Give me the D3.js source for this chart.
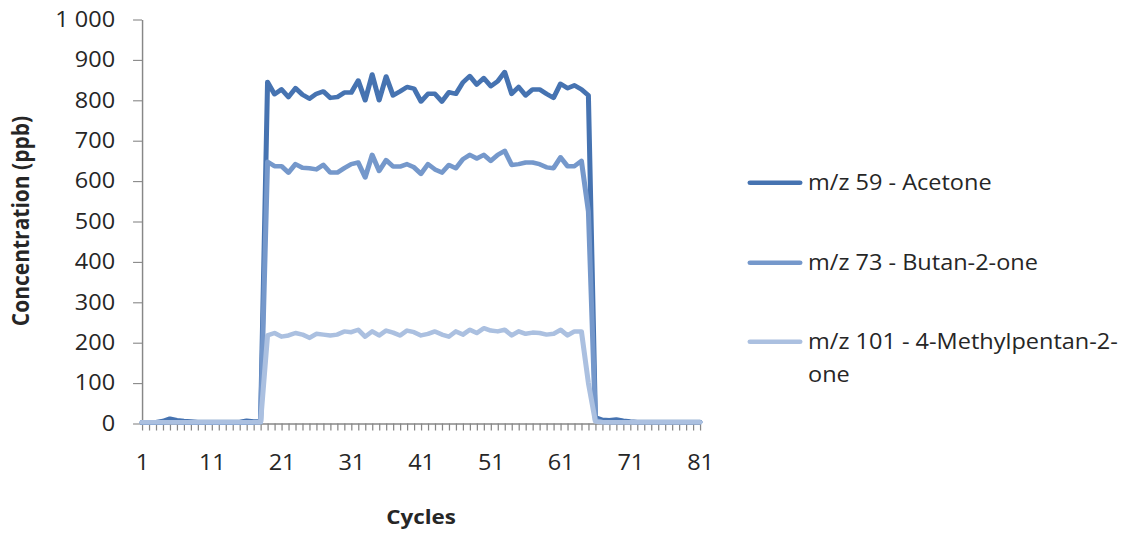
<!DOCTYPE html>
<html>
<head>
<meta charset="utf-8">
<script src="https://cdn.jsdelivr.net/npm/d3@7"></script>
<style>
  html, body { margin: 0; padding: 0; background: #fff; overflow: hidden; }
  svg text { font-family: "Open Sans", "Liberation Sans", sans-serif; fill: #262626; }
</style>
</head>
<body>
<svg id="chart"></svg>
<script>
// Measurement cycles 1..81
const cycles = d3.range(1, 82);

// Concentrations (ppb) per cycle
const acetone = [
  3, 3, 3, 6, 12, 8, 6, 5, 4, 4, 4, 4, 4, 4, 4, 7, 5, 5,
  845, 815, 827, 808, 830, 814, 804, 816, 822, 806, 808, 819, 819, 849, 800, 864,
  800, 859, 812, 822, 833, 829, 797, 816, 816, 797, 820, 816, 844, 860, 839, 855,
  835, 847, 870, 816, 833, 812, 827, 827, 816, 806, 841, 830, 837, 827, 812,
  15, 9, 8, 10, 7, 5, 4, 4, 4, 4, 4, 4, 4, 4, 4, 4
];
const butanone = [
  2, 2, 2, 2, 3, 3, 2, 2, 2, 2, 2, 2, 2, 2, 2, 2, 2, 3,
  648, 637, 637, 621, 642, 633, 632, 629, 640, 621, 621, 632, 642, 646, 609, 665,
  625, 652, 636, 636, 642, 634, 618, 642, 629, 621, 640, 632, 654, 665, 656, 665,
  650, 665, 675, 640, 642, 646, 646, 642, 634, 632, 659, 637, 637, 650, 525,
  8, 4, 3, 3, 3, 3, 3, 3, 3, 3, 3, 3, 3, 3, 3, 3
];
const methylpentanone = [
  3, 3, 3, 3, 3, 3, 3, 3, 3, 3, 3, 3, 3, 3, 3, 3, 3, 3,
  218, 224, 215, 218, 224, 220, 212, 222, 220, 218, 220, 228, 226, 232, 215, 228,
  218, 230, 225, 218, 230, 226, 218, 222, 228, 220, 215, 228, 220, 232, 224, 236,
  230, 228, 232, 218, 228, 222, 225, 224, 220, 222, 232, 218, 228, 228, 100,
  5, 3, 3, 3, 3, 3, 3, 3, 3, 3, 3, 3, 3, 3, 3, 3
];

const seriesNames = ["m/z 59 - Acetone", "m/z 73 - Butan-2-one", "m/z 101 - 4-Methylpentan-2-one"];
const seriesColors = ["#4673b1", "#7598cb", "#abc0e0"];
const yTickValues = [0, 100, 200, 300, 400, 500, 600, 700, 800, 900, 1000];
const xTickLabels = [1, 11, 21, 31, 41, 51, 61, 71, 81];

// The drawing is laid out in a slightly narrower box and stretched to the window width
const W = 1127, H = 533, stretch = 1.12;
const VW = W / stretch;

const svg = d3.select("#chart")
  .attr("width", W).attr("height", H)
  .attr("viewBox", `0 0 ${VW} ${H}`)
  .attr("preserveAspectRatio", "none");

const plot = { left: 142 / stretch, right: 700 / stretch, top: 19.5, bottom: 423.5 };

const x = d3.scaleLinear().domain([1, 81]).range([plot.left, plot.right]);
const y = d3.scaleLinear().domain([0, 1000]).range([plot.bottom, plot.top]);

const fmt = d3.formatLocale({ decimal: ",", thousands: "\u00a0", grouping: [3], currency: ["", ""] }).format(",");

// Y axis
const yAxis = svg.append("g")
  .attr("transform", `translate(${plot.left},0)`)
  .call(d3.axisLeft(y).tickValues(yTickValues).tickFormat(fmt).tickSize(8).tickSizeOuter(0).tickPadding(16));
yAxis.selectAll("text").style("font-size", "21px");

// X axis (one tick per cycle, labelled every ten)
const xAxis = svg.append("g")
  .attr("transform", `translate(0,${plot.bottom})`)
  .call(d3.axisBottom(x).tickValues(cycles)
    .tickFormat(d => xTickLabels.includes(d) ? d : "")
    .tickSize(7).tickSizeOuter(0).tickPadding(24.5));
xAxis.selectAll("text").style("font-size", "21px");

[yAxis, xAxis].forEach(g => {
  g.select(".domain").attr("stroke", "#878787").attr("stroke-width", 1.3);
  g.selectAll(".tick line").attr("stroke", "#878787").attr("stroke-width", 1.1);
});

// Series lines
const line = d3.line().x((d, i) => x(cycles[i])).y(d => y(d));
const series = [acetone, butanone, methylpentanone];
series.forEach((vals, k) => {
  svg.append("path")
    .datum(vals)
    .attr("d", line)
    .attr("fill", "none")
    .attr("stroke", seriesColors[k])
    .attr("stroke-width", 4.5)
    .attr("stroke-linejoin", "round")
    .attr("stroke-linecap", "round");
});

// Axis titles
svg.append("text")
  .attr("x", 421 / stretch).attr("y", 524)
  .attr("text-anchor", "middle")
  .style("font-size", "20px").style("font-weight", "bold")
  .text("Cycles");

svg.append("text")
  .attr("transform", `translate(${29 / stretch},${221}) rotate(-90)`)
  .attr("text-anchor", "middle")
  .style("font-size", "21px").style("font-weight", "bold")
  .text("Concentration (ppb)");

// Legend
const legendRows = [182.7, 262.7, 341.7];
const legend = svg.append("g");
seriesNames.forEach((name, k) => {
  const ly = legendRows[k];
  legend.append("line")
    .attr("x1", 750 / stretch).attr("x2", 800 / stretch)
    .attr("y1", ly).attr("y2", ly)
    .attr("stroke", seriesColors[k]).attr("stroke-width", 4.5)
    .attr("stroke-linecap", "round");
  const t = legend.append("text")
    .attr("x", 808 / stretch).attr("y", ly + 7.5)
    .style("font-size", "21px");
  if (k === 2) {
    t.append("tspan").text("m/z 101 - 4-Methylpentan-2-");
    t.append("tspan").attr("x", 808 / stretch).attr("dy", 33).text("one");
  } else {
    t.text(name);
  }
});
</script>
</body>
</html>
